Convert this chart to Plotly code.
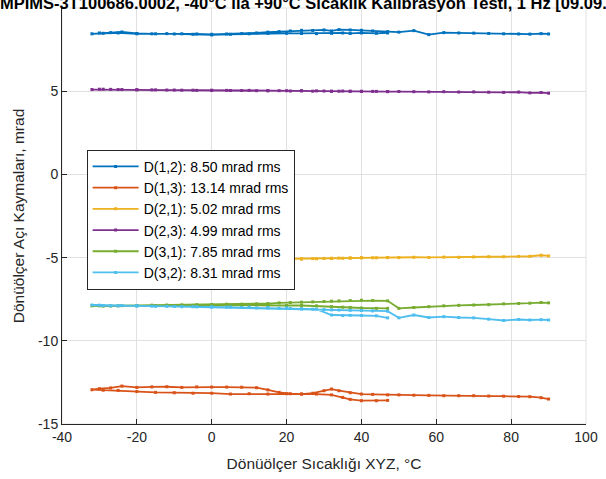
import plotly.graph_objects as go

# Temperature path (°C): from 47 down to -32, then up to 90
temp = [47, 44, 40, 37, 35, 32, 28, 24, 20, 15,
        10, 5, 0, -5, -10, -15, -20, -25, -29, -32,
        -30, -27, -24, -20, -16, -12, -8, -4, 0, 4,
        8, 12, 15, 18, 21, 24, 27, 30, 32, 34,
        37, 40, 43, 47, 50, 54, 58, 62, 66, 70,
        74, 78, 82, 85, 88, 90]

d12 = [8.50, 8.48, 8.50, 8.47, 8.50, 8.48, 8.46, 8.47, 8.48, 8.47,
       8.45, 8.42, 8.38, 8.42, 8.44, 8.45, 8.45, 8.50, 8.48, 8.45,
       8.50, 8.52, 8.56, 8.47, 8.45, 8.46, 8.45, 8.44, 8.42, 8.44,
       8.46, 8.50, 8.55, 8.58, 8.62, 8.66, 8.65, 8.68, 8.62, 8.70,
       8.68, 8.66, 8.62, 8.58, 8.55, 8.64, 8.40, 8.52, 8.50, 8.49,
       8.47, 8.45, 8.44, 8.43, 8.46, 8.44]

d13 = [-13.58, -13.60, -13.60, -13.52, -13.40, -13.25, -13.20, -13.20, -13.18, -13.20,
       -13.18, -13.20, -13.15, -13.15, -13.12, -13.10, -13.05, -12.98, -12.97, -12.94,
       -12.88, -12.83, -12.72, -12.80, -12.77, -12.76, -12.80, -12.77, -12.78, -12.78,
       -12.79, -12.82, -12.95, -13.10, -13.18, -13.20, -13.15, -13.00, -12.90, -13.00,
       -13.12, -13.20, -13.22, -13.25, -13.25, -13.27, -13.28, -13.30, -13.30, -13.30,
       -13.32, -13.33, -13.35, -13.36, -13.42, -13.50]

d21 = [-5.00, -5.01, -5.02, -5.03, -5.04, -5.05, -5.07, -5.08, -5.10, -5.12,
       -5.13, -5.14, -5.15, -5.16, -5.17, -5.18, -5.19, -5.20, -5.21, -5.20,
       -5.20, -5.19, -5.19, -5.18, -5.17, -5.16, -5.16, -5.15, -5.14, -5.13,
       -5.12, -5.11, -5.10, -5.10, -5.09, -5.08, -5.06, -5.05, -5.04, -5.03,
       -5.02, -5.00, -5.01, -4.99, -5.00, -4.98, -4.99, -4.97, -4.98, -4.96,
       -4.95, -4.95, -4.93, -4.92, -4.86, -4.90]

d23 = [4.98, 4.99, 5.00, 5.00, 5.01, 5.00, 5.02, 5.03, 5.03, 5.04,
       5.05, 5.04, 5.06, 5.06, 5.07, 5.08, 5.09, 5.10, 5.12, 5.10,
       5.12, 5.11, 5.10, 5.08, 5.08, 5.07, 5.06, 5.05, 5.04, 5.05,
       5.04, 5.03, 5.02, 5.03, 5.01, 5.02, 5.00, 5.01, 4.99, 5.00,
       4.99, 4.98, 4.99, 4.97, 4.98, 4.97, 4.96, 4.97, 4.95, 4.96,
       4.94, 4.93, 4.95, 4.90, 4.92, 4.88]

d31 = [-8.05, -8.05, -8.03, -8.00, -7.98, -7.95, -7.90, -7.88, -7.88, -7.86,
       -7.86, -7.87, -7.86, -7.87, -7.88, -7.88, -7.90, -7.90, -7.92, -7.90,
       -7.90, -7.91, -7.89, -7.88, -7.86, -7.85, -7.84, -7.83, -7.82, -7.80,
       -7.80, -7.78, -7.76, -7.72, -7.70, -7.68, -7.66, -7.64, -7.62, -7.60,
       -7.58, -7.56, -7.58, -7.60, -8.05, -8.00, -7.95, -7.90, -7.87, -7.85,
       -7.83, -7.78, -7.76, -7.74, -7.70, -7.72]

d32 = [-8.62, -8.50, -8.48, -8.47, -8.48, -8.45, -8.10, -8.08, -8.02, -8.00,
       -7.98, -7.97, -7.96, -7.95, -7.94, -7.93, -7.90, -7.90, -7.88, -7.85,
       -7.86, -7.90, -7.88, -7.90, -7.92, -7.93, -7.95, -7.96, -7.97, -7.98,
       -8.00, -8.02, -8.03, -8.04, -8.06, -8.08, -8.10, -8.12, -8.14, -8.15,
       -8.17, -8.18, -8.20, -8.22, -8.62, -8.45, -8.60, -8.55, -8.60, -8.62,
       -8.70, -8.78, -8.72, -8.75, -8.73, -8.75]

names = ["D(1,2): 8.50 mrad rms", "D(1,3): 13.14 mrad rms", "D(2,1): 5.02 mrad rms",
         "D(2,3): 4.99 mrad rms", "D(3,1): 7.85 mrad rms", "D(3,2): 8.31 mrad rms"]
colors = ["#0072BD", "#D95319", "#EDB120", "#7E2F8E", "#77AC30", "#4DBEEE"]
series = [d12, d13, d21, d23, d31, d32]

x_ticks = [-40, -20, 0, 20, 40, 60, 80, 100]
x_ticktext = ["-40", "-20", "0", "20", "40", "60", "80", "100"]
y_ticks = [-15, -10, -5, 0, 5, 10]
y_ticktext = ["-15", "-10", "-5", "0", "5", "10"]

title_text = "MPIMS-3T100686.0002, -40°C ila +90°C Sıcaklık Kalibrasyon Testi, 1 Hz [09.09.2019]"

FONT = "Liberation Sans, Arial, sans-serif"
DARK = "#262626"
GRID = "#e1e1e1"

fig = go.Figure()
for i, (nm, col, ys) in enumerate(zip(names, colors, series)):
    fig.add_trace(go.Scatter(
        x=temp, y=ys, name=nm, mode="lines+markers",
        line=dict(color=col, width=1.8),
        marker=dict(color=col, size=3, symbol="square"),
        legendgroup=str(i),
    ))

fig.update_layout(
    width=606, height=479,
    margin=dict(l=62, r=16, t=8, b=55),
    paper_bgcolor="white", plot_bgcolor="white",
    font=dict(family=FONT, size=14, color=DARK),
    showlegend=True,
    legend=dict(
        x=0.047, y=0.659, xanchor="left", yanchor="top",
        bgcolor="white", bordercolor=DARK, borderwidth=1,
        font=dict(family=FONT, size=14, color="#000000"),
        tracegroupgap=0, traceorder="grouped", itemwidth=46,
    ),
    xaxis=dict(
        range=[-40, 100], tickvals=x_ticks, ticktext=x_ticktext,
        showgrid=True, gridcolor=GRID, gridwidth=1,
        showline=True, linecolor=DARK, linewidth=1,
        ticks="inside", ticklen=5, tickcolor=DARK,
        zeroline=False,
        tickfont=dict(size=14, color=DARK),
        title=dict(text="Dönüölçer Sıcaklığı XYZ, °C", font=dict(size=15.5, color=DARK), standoff=14),
    ),
    yaxis=dict(
        range=[-15, 10], tickvals=y_ticks, ticktext=y_ticktext,
        showgrid=True, gridcolor=GRID, gridwidth=1,
        showline=True, linecolor=DARK, linewidth=1,
        ticks="inside", ticklen=5, tickcolor=DARK,
        zeroline=False,
        tickfont=dict(size=14, color=DARK),
        title=dict(text="Dönüölçer Açı Kaymaları, mrad", font=dict(size=15.5, color=DARK), standoff=9),
    ),
    shapes=[dict(type="rect", xref="paper", yref="paper", x0=0, x1=1, y0=0, y1=1,
                 line=dict(color=GRID, width=1), layer="below")],
    annotations=[dict(text="<b>" + title_text + "</b>", xref="paper", yref="paper",
                      x=0.5, y=1, xanchor="center", yanchor="middle", yshift=5,
                      showarrow=False, font=dict(family=FONT, size=16.5, color="#000000"))],
)

fig.write_html("out.html")
